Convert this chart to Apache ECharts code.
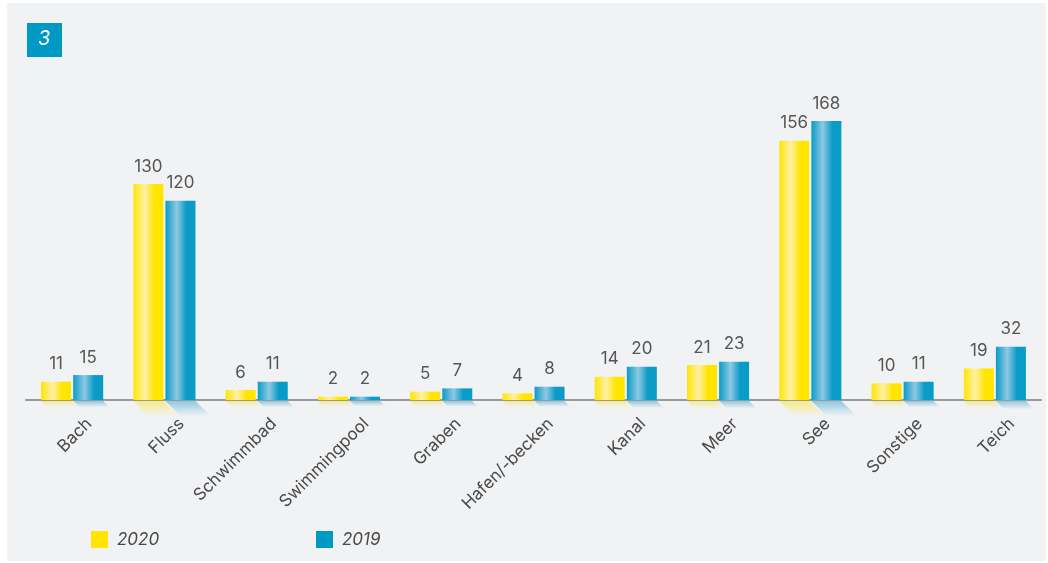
<!DOCTYPE html>
<html><head><meta charset="utf-8">
<script src="https://cdn.jsdelivr.net/npm/echarts@6/dist/echarts.min.js"></script>
<style>html,body{margin:0;padding:0;background:#fff}#c{width:1048px;height:563px}</style>
</head><body><div id="c"></div>
<script>
const categories = ['Bach','Fluss','Schwimmbad','Swimmingpool','Graben','Hafen/-becken','Kanal','Meer','See','Sonstige','Teich'];
const values2020 = [11,130,6,2,5,4,14,21,156,10,19];
const values2019 = [15,120,11,2,7,8,20,23,168,11,32];
const seriesNames = ['2020','2019'];
const badgeText = '3';

const FONT = 'Inter, "Noto Sans", sans-serif';
const chart = echarts.init(document.getElementById('c'));

function barGrad(c1, c2){
  return new echarts.graphic.LinearGradient(0,0,1,0,[
    {offset:0,color:c1},{offset:0.38,color:c2},{offset:0.7,color:c1},{offset:1,color:c1}
  ]);
}
function shadowSeries(vals, side, rgb){
  return {
    type:'custom', silent:true, z:1,
    data: vals.map((v,i)=>[i,v]),
    encode:{x:0,y:1},
    renderItem:function(params, api){
      const i = api.value(0), v = api.value(1);
      const base = api.coord([i,0]), top = api.coord([i,v]);
      const h = base[1]-top[1];
      const s = Math.min(15, 5 + h*0.06);
      const x0 = side<0 ? base[0]-31 : base[0]+1;
      const x1 = x0+30;
      const y0 = base[1]+1;
      return {
        type:'polygon',
        shape:{points:[[x0,y0],[x1,y0],[x1+s,y0+s],[x0+s,y0+s]]},
        style:{fill:new echarts.graphic.LinearGradient(0,0,0,1,[
          {offset:0,color:'rgba('+rgb+',0.45)'},{offset:1,color:'rgba('+rgb+',0)'}])}
      };
    }
  };
}

const legendText = {fontSize:17, fontStyle:'italic', color:'#4a4a4a', padding:[0,0,0,4], fontFamily:FONT};
const option = {
  animation:false,
  textStyle:{fontFamily:FONT},
  graphic:[
    {type:'rect', left:7, top:3, shape:{width:1039,height:558}, style:{fill:'#f1f2f4'}, z:-10},
    {type:'rect', left:27, top:23, shape:{width:35,height:34}, style:{fill:'#0099c4'}, z:10},
    {type:'text', left:38, top:29, style:{text:badgeText, fill:'#fff', font:'italic 20px '+FONT}, z:11}
  ],
  legend:[
    {data:[seriesNames[0]], left:91, top:531, padding:0, itemWidth:17, itemHeight:17, icon:'rect',
     itemStyle:{color:'#ffe500'}, textStyle:legendText},
    {data:[seriesNames[1]], left:316, top:531, padding:0, itemWidth:17, itemHeight:17, icon:'rect',
     itemStyle:{color:'#0099c4'}, textStyle:legendText}
  ],
  grid:{left:26, right:7, top:101, bottom:163},
  xAxis:{
    type:'category', data:categories,
    axisLine:{lineStyle:{color:'#999',width:2}},
    axisTick:{show:false},
    axisLabel:{rotate:45, fontSize:17, color:'#4a4a4a', margin:38, padding:[0,-24,0,0], interval:0, fontFamily:FONT}
  },
  yAxis:{type:'value', min:0, max:180, show:false, splitLine:{show:false}},
  series:[
    shadowSeries(values2020,-1,'255,225,0'),
    shadowSeries(values2019,1,'20,150,200'),
    {name:seriesNames[0], type:'bar', data:values2020, barWidth:30, barGap:'7%', z:3,
     itemStyle:{color:barGrad('#ffe500','#fff0a6')},
     label:{show:true, position:'top', distance:9, fontSize:17, color:'#555', fontFamily:FONT}},
    {name:seriesNames[1], type:'bar', data:values2019, barWidth:30, barGap:'7%', z:3,
     itemStyle:{color:barGrad('#0a9bc7','#8fc9e2')},
     label:{show:true, position:'top', distance:9, fontSize:17, color:'#555', fontFamily:FONT}}
  ]
};
chart.setOption(option);
</script></body></html>
